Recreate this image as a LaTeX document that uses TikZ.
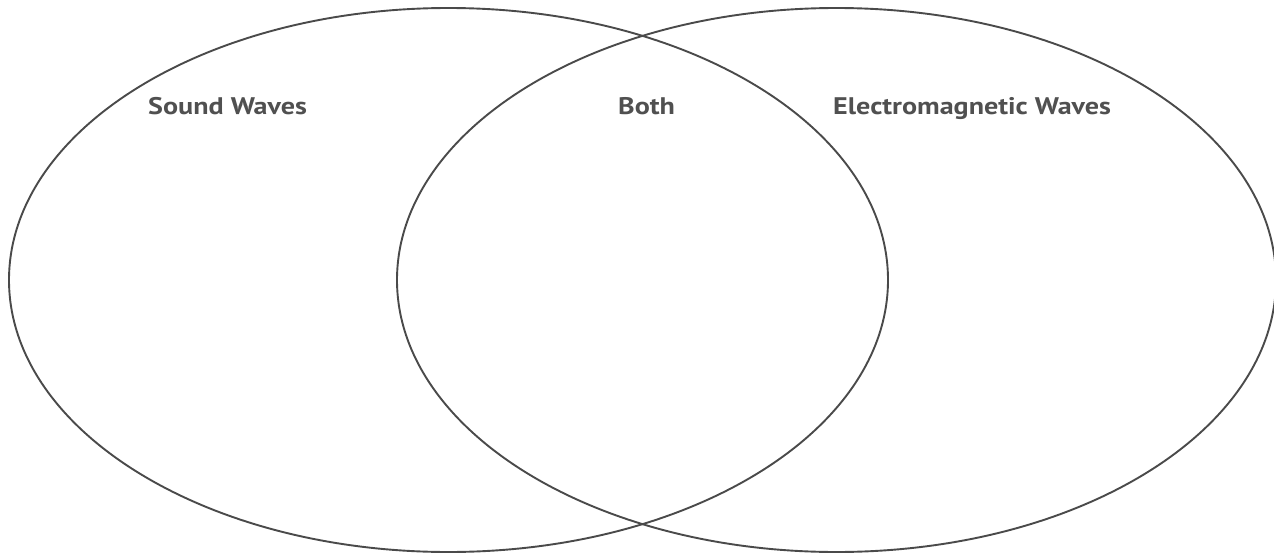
\documentclass[tikz,border=0pt]{standalone}
\usepackage{fontspec}
\setmainfont{PT Sans}
\newfontfamily\lblfont[FakeStretch=1.17]{PT Sans}
\definecolor{linegray}{HTML}{4A4A4A}
\definecolor{textgray}{HTML}{505050}
\tikzset{
  venn/.style={draw=linegray, line width=1.9pt},
  lbl/.style={anchor=base west, inner sep=0pt, text=textgray, font=\lblfont\fontsize{24}{28}\selectfont\bfseries}
}
\begin{document}
\begin{tikzpicture}[x=1pt,y=-1pt]
\useasboundingbox (0,0) rectangle (1274,554);
\draw[venn] (448.5,280) ellipse [x radius=439.5, y radius=272];
\draw[venn] (836.5,280) ellipse [x radius=439.5, y radius=272];
\node[lbl] (sound) at (148,114) {Sound Waves};
\node[lbl] (both) at (618,114) {Both};
\node[lbl] (em) at (833,114) {Electromagnetic Waves};
\end{tikzpicture}
\end{document}
